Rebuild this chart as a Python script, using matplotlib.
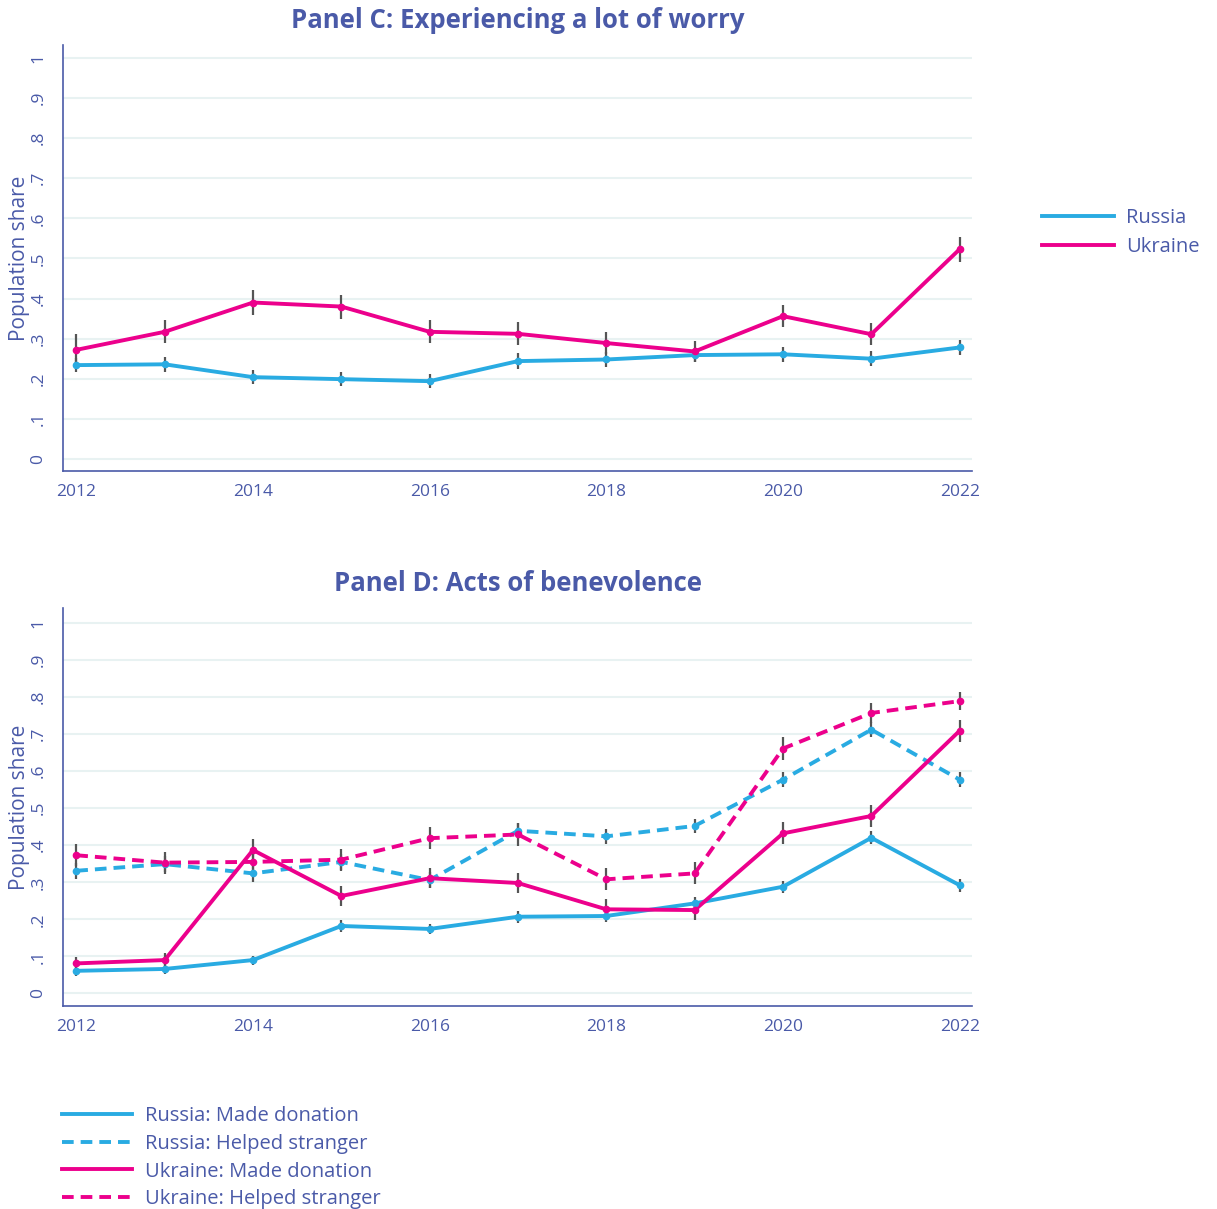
import matplotlib.pyplot as plt

plt.rcParams['font.family'] = ['Open Sans', 'DejaVu Sans']

years = list(range(2012, 2023))

# Panel C: experiencing a lot of worry
worry_russia = [0.234, 0.236, 0.204, 0.199, 0.194, 0.244, 0.248, 0.259, 0.261, 0.250, 0.278]
worry_russia_err = [0.018, 0.019, 0.018, 0.018, 0.018, 0.019, 0.019, 0.018, 0.018, 0.019, 0.019]
worry_ukraine = [0.272, 0.317, 0.390, 0.380, 0.317, 0.312, 0.289, 0.268, 0.356, 0.311, 0.523]
worry_ukraine_err = [0.040, 0.029, 0.031, 0.030, 0.029, 0.029, 0.028, 0.026, 0.028, 0.028, 0.031]

# Panel D: acts of benevolence
don_russia = [0.061, 0.066, 0.090, 0.182, 0.174, 0.207, 0.209, 0.243, 0.288, 0.420, 0.292]
don_russia_err = [0.014, 0.014, 0.012, 0.016, 0.014, 0.016, 0.016, 0.016, 0.016, 0.018, 0.017]
help_russia = [0.331, 0.349, 0.324, 0.355, 0.306, 0.439, 0.424, 0.452, 0.577, 0.712, 0.577]
help_russia_err = [0.022, 0.022, 0.022, 0.022, 0.022, 0.020, 0.020, 0.020, 0.020, 0.020, 0.020]
don_ukraine = [0.081, 0.090, 0.387, 0.263, 0.311, 0.298, 0.227, 0.225, 0.432, 0.479, 0.709]
don_ukraine_err = [0.018, 0.020, 0.030, 0.028, 0.027, 0.027, 0.027, 0.027, 0.030, 0.030, 0.030]
help_ukraine = [0.373, 0.353, 0.355, 0.361, 0.419, 0.429, 0.308, 0.324, 0.661, 0.757, 0.789]
help_ukraine_err = [0.030, 0.030, 0.030, 0.030, 0.030, 0.030, 0.030, 0.030, 0.030, 0.027, 0.025]

blue = '#29abe2'
pink = '#ec008c'
txt = '#4a5aa8'
grid = '#e8f2f2'
errc = '#555555'

yt = [i / 10 for i in range(11)]
ytl = ['0'] + ['.%d' % i for i in range(1, 10)] + ['1']


def style(ax, ylo, yhi, title):
    ax.set_xlim(2011.85, 2022.14)
    ax.set_ylim(ylo, yhi)
    ax.set_xticks(range(2012, 2023, 2))
    ax.set_yticks(yt)
    ax.set_yticklabels(ytl, rotation=90, va='center')
    ax.tick_params(length=0, colors=txt, labelsize=12.5)
    ax.tick_params(axis='y', pad=12)
    ax.tick_params(axis='x', pad=9)
    ax.yaxis.grid(True, color=grid, lw=1.5)
    ax.set_axisbelow(True)
    for s in ['top', 'right']:
        ax.spines[s].set_visible(False)
    for s in ['left', 'bottom']:
        ax.spines[s].set_color(txt)
        ax.spines[s].set_linewidth(1.2)
    ax.set_ylabel('Population share', color=txt, fontsize=15)
    ax.yaxis.set_label_coords(-0.036, 0.5)
    ax.set_title(title, color=txt, fontsize=18.5, fontweight='bold', pad=12)


def series(ax, y, err, color, ls, label):
    ax.errorbar(years, y, yerr=err, fmt='none', ecolor=errc, elinewidth=1.6, zorder=4)
    line, = ax.plot(years, y, color=color, lw=2.8, ls=ls, label=label, zorder=3)
    if ls == '--':
        line.set_dashes((3, 1.8))
    ax.plot(years, y, 'o', color=color, ms=4.5, zorder=5)
    return line


fig = plt.figure(figsize=(12.17, 12.09), dpi=100)

axc = fig.add_axes([0.0518, 0.6104, 0.7469, 0.3524])
h1 = series(axc, worry_russia, worry_russia_err, blue, '-', 'Russia')
h2 = series(axc, worry_ukraine, worry_ukraine_err, pink, '-', 'Ukraine')
style(axc, -0.030, 1.032, 'Panel C: Experiencing a lot of worry')
fig.legend([h1, h2], ['Russia', 'Ukraine'], loc='center left', bbox_to_anchor=(0.841, 0.808),
           frameon=False, fontsize=14.5, labelcolor=txt, handlelength=3.6, handletextpad=0.6,
           labelspacing=0.45)

axd = fig.add_axes([0.0518, 0.1679, 0.7469, 0.3291])
d1 = series(axd, don_russia, don_russia_err, blue, '-', 'Russia: Made donation')
d2 = series(axd, help_russia, help_russia_err, blue, '--', 'Russia: Helped stranger')
d3 = series(axd, don_ukraine, don_ukraine_err, pink, '-', 'Ukraine: Made donation')
d4 = series(axd, help_ukraine, help_ukraine_err, pink, '--', 'Ukraine: Helped stranger')
style(axd, -0.034, 1.04, 'Panel D: Acts of benevolence')
fig.legend([d1, d2, d3, d4],
           ['Russia: Made donation', 'Russia: Helped stranger',
            'Ukraine: Made donation', 'Ukraine: Helped stranger'],
           loc='upper left', bbox_to_anchor=(0.036, 0.1), frameon=False, fontsize=14.5,
           labelcolor=txt, handlelength=3.5, handletextpad=0.6, labelspacing=0.38)

fig.savefig('out.png', dpi=100)
